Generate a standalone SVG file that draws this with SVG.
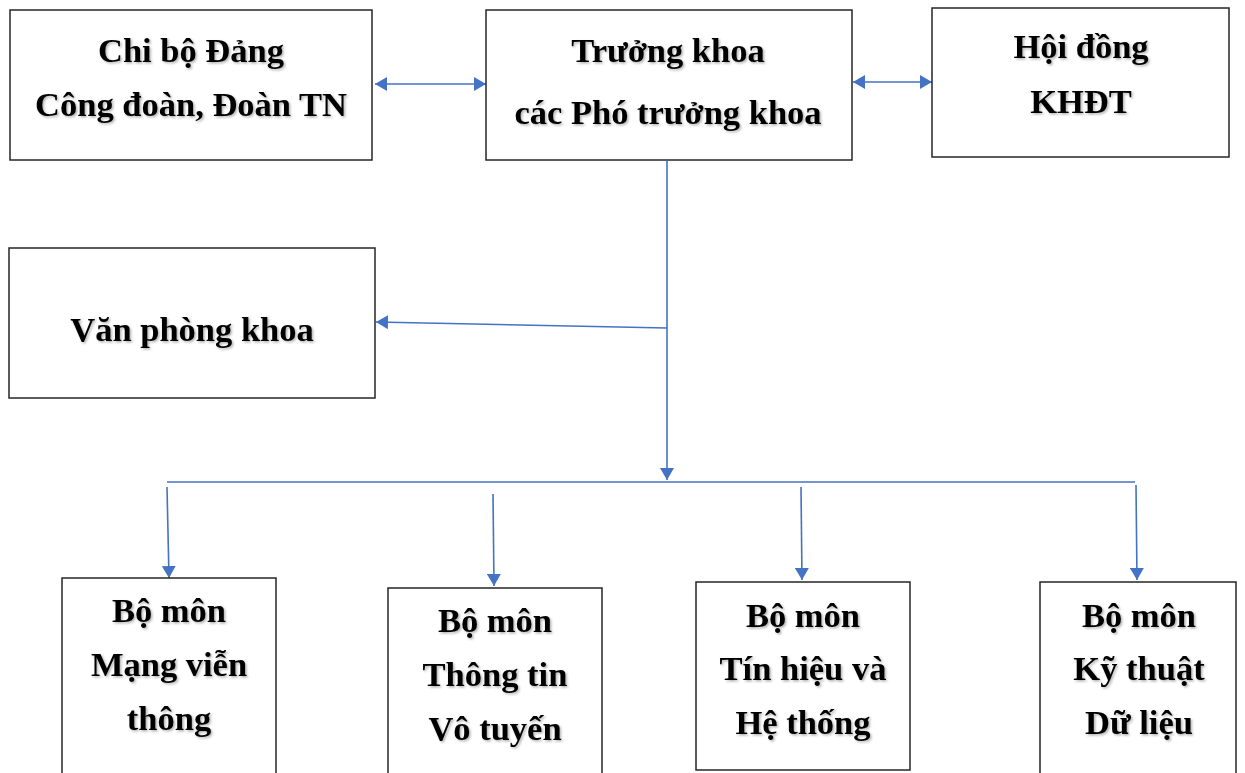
<svg xmlns="http://www.w3.org/2000/svg" width="1245" height="773" viewBox="0 0 1245 773">
<defs>
<style>
.box{fill:#fff;stroke:#262626;stroke-width:1.5}
.t{font-family:"Liberation Serif","Times New Roman",serif;font-weight:bold;font-size:34.5px;fill:#000;text-anchor:middle;filter:url(#sh)}
.c{stroke:#4472C4;stroke-width:1.6;fill:none}
.a{marker-end:url(#ah)}
.d{marker-start:url(#ahs);marker-end:url(#ah)}
</style>
<filter id="sh" x="-10%" y="-30%" width="120%" height="160%">
<feDropShadow dx="1.5" dy="1.5" stdDeviation="0.8" flood-color="#000" flood-opacity="0.3"/>
</filter>
<marker id="ah" viewBox="0 0 12 14" refX="12" refY="7" markerWidth="12" markerHeight="14" markerUnits="userSpaceOnUse" orient="auto">
<path d="M0,0 L12,7 L0,14 z" fill="#4472C4"/>
</marker>
<marker id="ahs" viewBox="0 0 12 14" refX="0" refY="7" markerWidth="12" markerHeight="14" markerUnits="userSpaceOnUse" orient="auto">
<path d="M12,0 L0,7 L12,14 z" fill="#4472C4"/>
</marker>
</defs>

<g id="connectors">
<line class="c d" x1="375" y1="84" x2="486" y2="84"/>
<line class="c d" x1="853" y1="82" x2="932" y2="82"/>
<line class="c a" x1="667" y1="161" x2="667" y2="480"/>
<line class="c a" x1="667" y1="328" x2="376" y2="322"/>
<line class="c" x1="167" y1="482" x2="1135" y2="482"/>
<line class="c a" x1="167" y1="487" x2="169" y2="578"/>
<line class="c a" x1="493" y1="494" x2="494" y2="586"/>
<line class="c a" x1="801" y1="487" x2="802" y2="580"/>
<line class="c a" x1="1136" y1="485" x2="1137" y2="580"/>
</g>

<g id="chibo">
<rect class="box" x="10" y="10" width="362" height="150"/>
<text class="t" x="191" y="62">Chi bộ Đảng</text>
<text class="t" x="191" y="116">Công đoàn, Đoàn TN</text>
</g>

<g id="truongkhoa">
<rect class="box" x="486" y="10" width="366" height="150"/>
<text class="t" x="668" y="62">Trưởng khoa</text>
<text class="t" x="668" y="124">các Phó trưởng khoa</text>
</g>

<g id="hoidong">
<rect class="box" x="932" y="8" width="297" height="149"/>
<text class="t" x="1081" y="58">Hội đồng</text>
<text class="t" x="1081" y="113">KHĐT</text>
</g>

<g id="vanphong">
<rect class="box" x="9" y="248" width="366" height="150"/>
<text class="t" x="192" y="341">Văn phòng khoa</text>
</g>

<g id="bm1">
<rect class="box" x="62" y="578" width="214" height="200"/>
<text class="t" x="169" y="622">Bộ môn</text>
<text class="t" x="169" y="676">Mạng viễn</text>
<text class="t" x="169" y="730">thông</text>
</g>

<g id="bm2">
<rect class="box" x="388" y="588" width="214" height="190"/>
<text class="t" x="495" y="632">Bộ môn</text>
<text class="t" x="495" y="686">Thông tin</text>
<text class="t" x="495" y="740">Vô tuyến</text>
</g>

<g id="bm3">
<rect class="box" x="696" y="582" width="214" height="188"/>
<text class="t" x="803" y="627">Bộ môn</text>
<text class="t" x="803" y="680">Tín hiệu và</text>
<text class="t" x="803" y="734">Hệ thống</text>
</g>

<g id="bm4">
<rect class="box" x="1040" y="582" width="196" height="196"/>
<text class="t" x="1139" y="627">Bộ môn</text>
<text class="t" x="1139" y="680">Kỹ thuật</text>
<text class="t" x="1139" y="734">Dữ liệu</text>
</g>
</svg>
